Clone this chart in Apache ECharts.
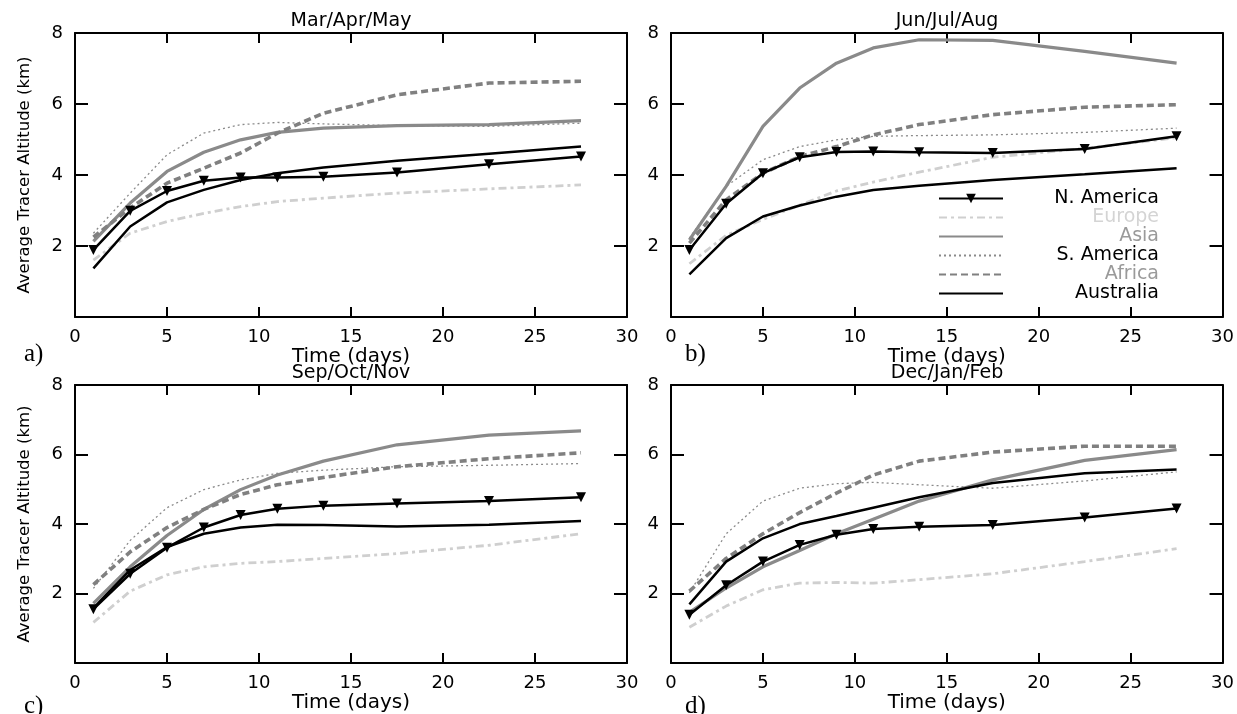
<!DOCTYPE html>
<html>
<head>
<meta charset="utf-8">
<script src="https://cdn.jsdelivr.net/npm/echarts@6/dist/echarts.min.js"></script>
<style>
html,body{margin:0;padding:0;background:#fff;}
#chart{width:1237px;height:714px;}
</style>
</head>
<body>
<div id="chart"></div>
<script>
// ---- data ----
const days = [1, 3, 5, 7, 9, 11, 13.5, 17.5, 22.5, 27.5];
const regions = ['N. America', 'Europe', 'Asia', 'S. America', 'Africa', 'Australia'];
const seasons = ['Mar/Apr/May', 'Jun/Jul/Aug', 'Sep/Oct/Nov', 'Dec/Jan/Feb'];
const panelLabels = ['a)', 'b)', 'c)', 'd)'];
const xTicks = [0, 5, 10, 15, 20, 25, 30];
const yTicks = [2, 4, 6, 8];

// Mar/Apr/May
const mamNAmerica  = [1.89, 2.99, 3.55, 3.84, 3.93, 3.93, 3.95, 4.07, 4.30, 4.52];
const mamEurope    = [1.60, 2.36, 2.69, 2.92, 3.11, 3.25, 3.35, 3.49, 3.61, 3.72];
const mamAsia      = [2.13, 3.21, 4.10, 4.64, 4.99, 5.20, 5.32, 5.39, 5.42, 5.53];
const mamSAmerica  = [2.36, 3.49, 4.57, 5.18, 5.42, 5.48, 5.44, 5.39, 5.37, 5.46];
const mamAfrica    = [2.25, 3.07, 3.77, 4.19, 4.62, 5.18, 5.74, 6.26, 6.59, 6.64];
const mamAustralia = [1.37, 2.55, 3.23, 3.58, 3.86, 4.05, 4.21, 4.40, 4.60, 4.80];
// Jun/Jul/Aug
const jjaNAmerica  = [1.89, 3.19, 4.05, 4.50, 4.65, 4.66, 4.64, 4.62, 4.73, 5.09];
const jjaEurope    = [1.50, 2.30, 2.75, 3.15, 3.55, 3.80, 4.08, 4.50, 4.75, 5.05];
const jjaAsia      = [2.17, 3.68, 5.37, 6.45, 7.15, 7.58, 7.81, 7.79, 7.48, 7.15];
const jjaSAmerica  = [2.22, 3.68, 4.43, 4.80, 4.99, 5.09, 5.11, 5.13, 5.20, 5.32];
const jjaAfrica    = [2.08, 3.30, 4.05, 4.52, 4.80, 5.13, 5.42, 5.70, 5.91, 5.98];
const jjaAustralia = [1.20, 2.22, 2.83, 3.14, 3.39, 3.58, 3.70, 3.86, 4.02, 4.19];
// Sep/Oct/Nov
const sonNAmerica  = [1.55, 2.57, 3.32, 3.90, 4.26, 4.44, 4.53, 4.59, 4.66, 4.77];
const sonEurope    = [1.17, 2.07, 2.54, 2.77, 2.87, 2.92, 3.01, 3.15, 3.39, 3.72];
const sonAsia      = [1.72, 2.77, 3.67, 4.42, 4.99, 5.41, 5.81, 6.28, 6.56, 6.68];
const sonSAmerica  = [2.15, 3.53, 4.47, 4.99, 5.27, 5.46, 5.55, 5.65, 5.69, 5.74];
const sonAfrica    = [2.26, 3.20, 3.90, 4.42, 4.85, 5.13, 5.34, 5.65, 5.88, 6.05];
const sonAustralia = [1.58, 2.68, 3.34, 3.72, 3.90, 3.98, 3.97, 3.93, 3.98, 4.09];
// Dec/Jan/Feb
const djfNAmerica  = [1.39, 2.24, 2.92, 3.40, 3.69, 3.86, 3.92, 3.97, 4.19, 4.45];
const djfEurope    = [1.03, 1.64, 2.11, 2.30, 2.32, 2.30, 2.40, 2.57, 2.92, 3.29];
const djfAsia      = [1.46, 2.16, 2.77, 3.24, 3.72, 4.14, 4.66, 5.27, 5.83, 6.14];
const djfSAmerica  = [2.02, 3.72, 4.66, 5.03, 5.16, 5.20, 5.13, 5.03, 5.24, 5.50];
const djfAfrica    = [2.07, 3.01, 3.72, 4.33, 4.89, 5.41, 5.81, 6.07, 6.24, 6.24];
const djfAustralia = [1.69, 2.92, 3.59, 4.00, 4.23, 4.47, 4.77, 5.18, 5.46, 5.57];

const panelData = [
  [mamNAmerica, mamEurope, mamAsia, mamSAmerica, mamAfrica, mamAustralia],
  [jjaNAmerica, jjaEurope, jjaAsia, jjaSAmerica, jjaAfrica, jjaAustralia],
  [sonNAmerica, sonEurope, sonAsia, sonSAmerica, sonAfrica, sonAustralia],
  [djfNAmerica, djfEurope, djfAsia, djfSAmerica, djfAfrica, djfAustralia]
];

// ---- styles ----
const regionStyle = {
  'N. America': {color: '#000000', width: 2.5, type: 'solid', symbol: 'triangle'},
  'Europe':     {color: '#cfcfcf', width: 2.8, type: [8, 4, 3, 4], symbol: 'none'},
  'Asia':       {color: '#8a8a8a', width: 3.2, type: 'solid', symbol: 'none'},
  'S. America': {color: '#8a8a8a', width: 1.3, type: [2, 3], symbol: 'none'},
  'Africa':     {color: '#808080', width: 3.6, type: [7, 4], symbol: 'none'},
  'Australia':  {color: '#000000', width: 2.5, type: 'solid', symbol: 'none'}
};
const legendTextColor = {
  'N. America': '#000', 'Europe': '#d4d4d4', 'Asia': '#9a9a9a',
  'S. America': '#000', 'Africa': '#9a9a9a', 'Australia': '#000'
};

const grids = [
  {left: 75,  top: 33,  width: 552, height: 284},
  {left: 671, top: 33,  width: 552, height: 284},
  {left: 75,  top: 385, width: 552, height: 284},
  {left: 671, top: 385, width: 552, height: 284}
];

const SANS = 'DejaVu Sans';
const axisLineStyle = {color: '#000', width: 2};

const xAxes = [], yAxes = [], series = [], titles = [];
grids.forEach((g, i) => {
  xAxes.push({
    gridIndex: i, type: 'value', min: 0, max: 30, interval: 5, position: 'bottom',
    axisLine: {show: true, onZero: false, lineStyle: axisLineStyle},
    axisTick: {show: true, inside: true, length: 10, lineStyle: {color: '#000', width: 2}},
    axisLabel: {show: true, color: '#000', fontFamily: SANS, fontSize: 18, margin: 11,
      formatter: v => xTicks.includes(v) ? String(v) : ''},
    splitLine: {show: false},
    name: 'Time (days)', nameLocation: 'middle', nameGap: 21,
    nameTextStyle: {color: '#000', fontFamily: SANS, fontSize: 20}
  });
  xAxes.push({
    gridIndex: i, type: 'value', min: 0, max: 30, interval: 5, position: 'top',
    axisLine: {show: true, onZero: false, lineStyle: axisLineStyle},
    axisTick: {show: true, inside: true, length: 10, lineStyle: {color: '#000', width: 2}},
    axisLabel: {show: false}, splitLine: {show: false}
  });
  yAxes.push({
    gridIndex: i, type: 'value', min: 0, max: 8, interval: 2, position: 'left',
    axisLine: {show: true, onZero: false, lineStyle: axisLineStyle},
    axisTick: {show: true, inside: true, length: 13, lineStyle: {color: '#000', width: 2}},
    axisLabel: {show: true, color: '#000', fontFamily: SANS, fontSize: 18, margin: 12,
      formatter: v => yTicks.includes(v) ? String(v) : ''},
    splitLine: {show: false},
    name: (i % 2 === 0) ? 'Average Tracer Altitude (km)' : '',
    nameLocation: 'middle', nameGap: 42,
    nameTextStyle: {color: '#000', fontFamily: SANS, fontSize: 16.5}
  });
  yAxes.push({
    gridIndex: i, type: 'value', min: 0, max: 8, interval: 2, position: 'right',
    axisLine: {show: true, onZero: false, lineStyle: axisLineStyle},
    axisTick: {show: true, inside: true, length: 13, lineStyle: {color: '#000', width: 2}},
    axisLabel: {show: false}, splitLine: {show: false}
  });
  regions.forEach((r, k) => {
    const st = regionStyle[r];
    series.push({
      name: r, type: 'line', xAxisIndex: 2 * i, yAxisIndex: 2 * i,
      data: days.map((d, j) => [d, panelData[i][k][j]]),
      symbol: st.symbol, symbolSize: 10, symbolRotate: 180, showSymbol: st.symbol !== 'none',
      itemStyle: {color: st.color},
      lineStyle: {color: st.color, width: st.width, type: st.type},
      z: k === 0 ? 10 : 3,
      animation: false, silent: true
    });
  });
  titles.push({
    text: seasons[i], left: g.left + g.width / 2, top: g.top - 21, textAlign: 'center', padding: 0,
    textStyle: {color: '#000', fontFamily: SANS, fontSize: 19, fontWeight: 'normal'}
  });
  titles.push({
    text: panelLabels[i], left: (i % 2 === 0) ? 24 : 685, top: g.top + g.height + 25, padding: 0,
    textStyle: {color: '#000', fontFamily: 'Liberation Serif', fontSize: 25, fontWeight: 'normal'}
  });
});

const option = {
  backgroundColor: '#fff',
  animation: false,
  title: titles,
  grid: grids,
  xAxis: xAxes,
  yAxis: yAxes,
  legend: {
    orient: 'vertical', left: 938, top: 189, padding: 0,
    itemWidth: 64, itemHeight: 12, itemGap: 0, itemTextGap: 4,
    selectedMode: false,
    data: regions.map(r => ({
      name: r,
      textStyle: {color: legendTextColor[r]},
      itemStyle: r === 'N. America' ? {} : {opacity: 0}
    })),
    formatter: name => '{t|' + name + '}',
    textStyle: {
      fontFamily: SANS, fontSize: 19, lineHeight: 19,
      rich: {t: {width: 151, align: 'right', fontFamily: SANS, fontSize: 19, lineHeight: 19}}
    }
  },
  series: series
};

const chart = echarts.init(document.getElementById('chart'), null, {renderer: 'canvas'});
chart.setOption(option);
</script>
</body>
</html>
